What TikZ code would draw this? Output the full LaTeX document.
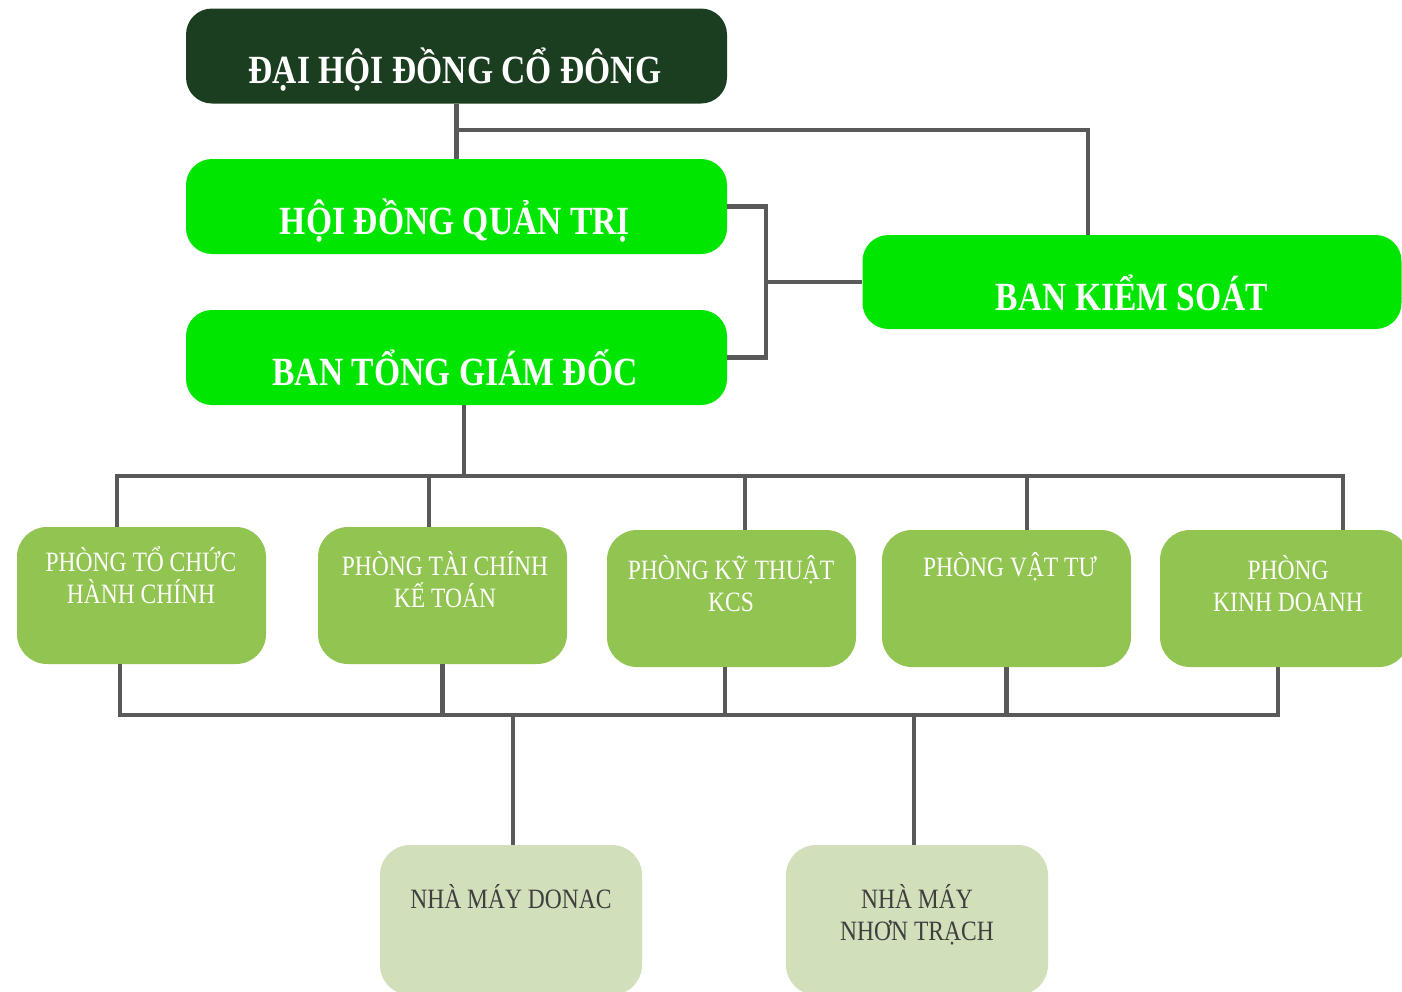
\documentclass[tikz,border=0pt]{standalone}
\usepackage{fontspec}
\newfontfamily\tfont[FakeStretch=0.84]{Liberation Serif}
\newfontfamily\bfontf[FakeStretch=0.84]{Liberation Serif Bold}
\definecolor{darkg}{HTML}{1A3E1F}
\definecolor{brightg}{HTML}{00E600}
\definecolor{deptg}{HTML}{92C451}
\definecolor{factg}{HTML}{D1DFBB}
\definecolor{lineg}{HTML}{595959}
\definecolor{facttxt}{HTML}{3F3F3F}
\tikzset{
  bigbox/.style={rounded corners=26pt, minimum width=541pt, minimum height=95pt, inner sep=0pt},
  deptbox/.style={rounded corners=30pt, fill=deptg, minimum width=249pt, minimum height=137pt, inner sep=0pt},
  factbox/.style={rounded corners=30pt, fill=factg, minimum width=262pt, minimum height=150pt, inner sep=0pt},
  bigtxt/.style={text=white, anchor=base, inner sep=0pt, font=\bfontf\fontsize{40}{48}\selectfont},
  depttxt/.style={text=white, anchor=base, inner sep=0pt, align=center, font=\tfont\fontsize{28}{32}\selectfont},
  facttxt/.style={text=facttxt, anchor=base, inner sep=0pt, align=center, font=\tfont\fontsize{28}{32}\selectfont},
  conn/.style={draw=lineg, line width=4.5pt}
}
\begin{document}
\begin{tikzpicture}[x=1pt,y=-1pt]
\useasboundingbox (0,0) rectangle (1402,991);
\clip (0,0) rectangle (1402,991);
\fill[white] (0,0) rectangle (1402,991);

% junctions
\coordinate (j1) at (456.5,130);
\coordinate (j2) at (766,282);
\coordinate (j3) at (464,476);
\coordinate (j4) at (513,715);
\coordinate (j5) at (914,715);

% boxes
\node[bigbox, fill=darkg] (dhd) at (456.5,56) {};
\node[bigbox, fill=brightg] (hdqt) at (456.5,206.5) {};
\node[bigbox, fill=brightg] (btgd) at (456.5,357.5) {};
\node[bigbox, fill=brightg, minimum width=539pt, minimum height=94pt] (bks) at (1132,282) {};

\node[deptbox] (p1) at (141.5,595.5) {};
\node[deptbox] (p2) at (442.5,595.5) {};
\node[deptbox] (p3) at (731.5,598.5) {};
\node[deptbox] (p4) at (1006.5,598.5) {};
\node[deptbox] (p5) at (1284.5,598.5) {};

\node[factbox] (f1) at (511,920) {};
\node[factbox] (f2) at (917,920) {};

% connectors
\draw[conn] (dhd.south) -- (hdqt.north);
\draw[conn] (j1) -| ([xshift=-44pt]bks.north);
\draw[conn] (hdqt.east) -| (j2) |- (btgd.east);
\draw[conn] (j2) -- (bks.west);
\draw[conn] ([xshift=7.5pt]btgd.south) -- (j3);
\draw[conn] ([xshift=-24.5pt]p1.north) |- (j3) -| ([xshift=58.5pt]p5.north);
\draw[conn] ([xshift=-13.5pt]p2.north) -- ([xshift=-13.5pt]p2.north |- j3);
\draw[conn] ([xshift=13.5pt]p3.north) -- ([xshift=13.5pt]p3.north |- j3);
\draw[conn] ([xshift=20.5pt]p4.north) -- ([xshift=20.5pt]p4.north |- j3);
\draw[conn] ([xshift=-21.5pt]p1.south) |- (j4) -| ([xshift=-6.5pt]p5.south);
\draw[conn] (p2.south) -- (p2.south |- j4);
\draw[conn] ([xshift=-6.5pt]p3.south) -- ([xshift=-6.5pt]p3.south |- j4);
\draw[conn] (p4.south) -- (p4.south |- j4);
\draw[conn] (j4) -- (j4 |- f1.north);
\draw[conn] (j5) -- (j5 |- f2.north);

% texts
\node[bigtxt] (dhdT) at (455,83) {ĐẠI HỘI ĐỒNG CỔ ĐÔNG};
\node[bigtxt] (hdqtT) at (455,234) {HỘI ĐỒNG QUẢN TRỊ};
\node[bigtxt] (btgdT) at (455,385) {BAN TỔNG GIÁM ĐỐC};
\node[bigtxt] (bksT) at (1132,310) {BAN KIỂM SOÁT};

\node[depttxt] (p1T) at (141,603) {PHÒNG TỔ CHỨC\\HÀNH CHÍNH};
\node[depttxt] (p2T) at (445,607) {PHÒNG TÀI CHÍNH\\KẾ TOÁN};
\node[depttxt] (p3T) at (731,611) {PHÒNG KỸ THUẬT\\KCS};
\node[depttxt] (p4T) at (1010,576) {PHÒNG VẬT TƯ};
\node[depttxt] (p5T) at (1288,611) {PHÒNG\\KINH DOANH};

\node[facttxt] (f1T) at (511,908) {NHÀ MÁY DONAC};
\node[facttxt] (f2T) at (917,940) {NHÀ MÁY\\NHƠN TRẠCH};
\end{tikzpicture}
\end{document}
